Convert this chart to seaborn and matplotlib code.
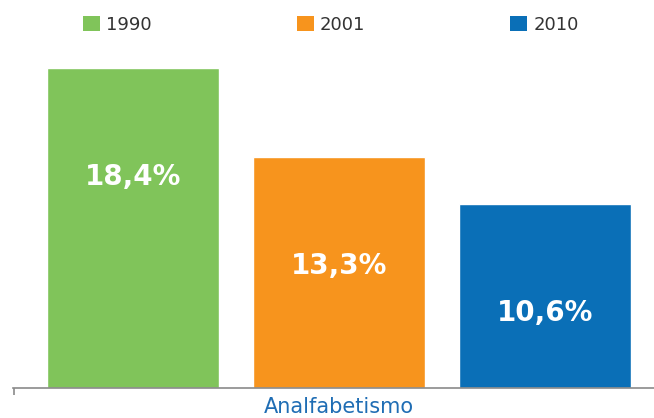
import matplotlib
matplotlib.use("Agg")
import matplotlib.pyplot as plt
import seaborn as sns
import pandas as pd
from matplotlib.patches import Patch

# ---- data ----
indicador = ["Analfabetismo", "Analfabetismo", "Analfabetismo"]
anos = ["1990", "2001", "2010"]
taxas = [18.4, 13.3, 10.6]
rotulos = ["18,4%", "13,3%", "10,6%"]
cores = ["#80C45A", "#F7941D", "#0A6FB7"]

df = pd.DataFrame({"indicador": indicador, "ano": anos, "taxa": taxas})

sns.set_theme(style="white")
plt.rcParams["font.family"] = ["DejaVu Sans"]

W, H = 654, 418
fig = plt.figure(figsize=(W / 100, H / 100), dpi=100)
ax = fig.add_axes([13 / W, 30 / H, 641 / W, 388 / H])

sns.barplot(data=df, x="indicador", y="taxa", hue="ano", hue_order=anos,
            palette=cores, width=0.9, gap=0.165, dodge=True,
            saturation=1, legend=False, ax=ax)

ax.set_xlim(-0.4747, 0.4587)
ax.set_ylim(0, 388 / 17.4)

# value labels inside bars
for bars, lab in zip(ax.containers, rotulos):
    for b in bars:
        ax.text(b.get_x() + b.get_width() / 2, b.get_height() - 6.3, lab,
                ha="center", va="center", color="white",
                fontsize=20, fontweight="bold")

# axes styling
for s in ["left", "top", "right"]:
    ax.spines[s].set_visible(False)
ax.spines["bottom"].set_color("#8a8a8a")
ax.spines["bottom"].set_linewidth(1.2)
ax.set_yticks([])
ax.set_ylabel("")
ax.set_xlabel("")
ax.tick_params(axis="x", which="major", length=0, pad=6.5,
               labelsize=15, labelcolor="#1F6DB4")
ax.set_xticks([-0.4747 + 0.001], minor=True)
ax.tick_params(axis="x", which="minor", bottom=True, length=5,
               width=1.2, color="#8a8a8a", direction="out")

# legend
handles = [Patch(facecolor=c, edgecolor="none") for c in cores]
fig.legend(handles, anos, loc="center left",
           bbox_to_anchor=(74 / W, 1 - 24.5 / H), ncol=3, frameon=False,
           fontsize=13, labelcolor="#333333", borderpad=0,
           handlelength=0.95, handleheight=0.95, handletextpad=0.35,
           columnspacing=8.0)

fig.savefig("out.png", dpi=100)
